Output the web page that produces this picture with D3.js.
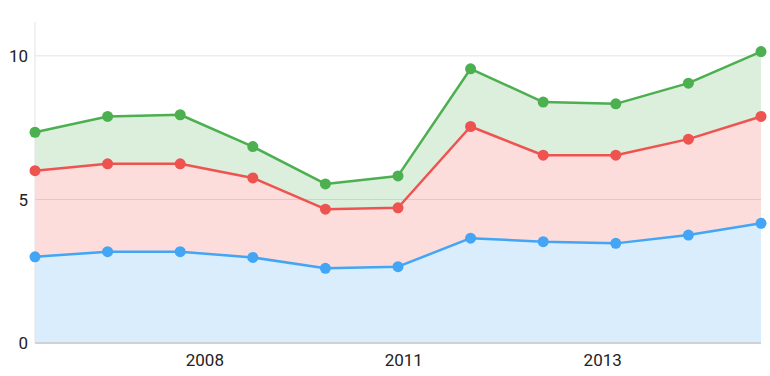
<!DOCTYPE html>
<html>
<head>
<meta charset="utf-8">
<script src="https://cdn.jsdelivr.net/npm/d3@7"></script>
<style>
  html, body { margin: 0; padding: 0; background: #fff; }
  #chart { width: 770px; height: 376px; }
</style>
</head>
<body>
<div id="chart"></div>
<script>
// Data (stacked: blue at bottom, then red, then green)
const pointIndex = [0, 1, 2, 3, 4, 5, 6, 7, 8, 9, 10];
const seriesBlue = [3.0, 3.18, 3.18, 2.98, 2.6, 2.66, 3.65, 3.53, 3.47, 3.76, 4.17];
const seriesRed = [3.0, 3.06, 3.06, 2.77, 2.06, 2.05, 3.89, 3.01, 3.07, 3.34, 3.72];
const seriesGreen = [1.34, 1.65, 1.71, 1.09, 0.88, 1.11, 2.01, 1.85, 1.79, 1.95, 2.26];
const seriesColors = ["#42a5f5", "#ef5350", "#4caf50"];
const xTickPos = [2.34, 5.08, 7.82];
const xTickLabels = ["2008", "2011", "2013"];
const yTicks = [0, 5, 10];

const width = 770, height = 376;
const margin = { top: 22, right: 9, bottom: 33, left: 35 };

const svg = d3.select("#chart").append("svg")
  .attr("width", width)
  .attr("height", height)
  .attr("font-family", "Roboto, sans-serif");

const x = d3.scaleLinear()
  .domain([0, pointIndex.length - 1])
  .range([margin.left, width - margin.right]);

const y = d3.scaleLinear()
  .domain([0, 11.18])
  .range([height - margin.bottom, margin.top]);

// build stacked table
const table = pointIndex.map((d, i) => ({
  i: d, blue: seriesBlue[i], red: seriesRed[i], green: seriesGreen[i]
}));
const stacked = d3.stack().keys(["blue", "red", "green"])(table);

// grid lines
svg.append("g")
  .selectAll("line")
  .data(yTicks.filter(t => t > 0))
  .join("line")
  .attr("x1", margin.left)
  .attr("x2", width - margin.right)
  .attr("y1", d => y(d))
  .attr("y2", d => y(d))
  .attr("stroke", "#e3e3e3")
  .attr("stroke-width", 1);

// areas
const area = d3.area()
  .x(d => x(d.data.i))
  .y0(d => y(d[0]))
  .y1(d => y(d[1]));

svg.append("g")
  .selectAll("path")
  .data(stacked)
  .join("path")
  .attr("d", area)
  .attr("fill", (d, i) => seriesColors[i])
  .attr("fill-opacity", 0.2);

// left axis line
svg.append("line")
  .attr("x1", margin.left).attr("x2", margin.left)
  .attr("y1", margin.top).attr("y2", y(0))
  .attr("stroke", "#e3e3e3");

// bottom axis line
svg.append("line")
  .attr("x1", margin.left).attr("x2", width - margin.right)
  .attr("y1", y(0)).attr("y2", y(0))
  .attr("stroke", "#cfd3d8")
  .attr("stroke-width", 2);

// lines
const line = d3.line()
  .x(d => x(d.data.i))
  .y(d => y(d[1]));

svg.append("g")
  .selectAll("path")
  .data(stacked)
  .join("path")
  .attr("d", line)
  .attr("fill", "none")
  .attr("stroke", (d, i) => seriesColors[i])
  .attr("stroke-width", 2.5)
  .attr("stroke-linejoin", "round");

// dots
stacked.forEach((s, k) => {
  svg.append("g")
    .selectAll("circle")
    .data(s)
    .join("circle")
    .attr("cx", d => x(d.data.i))
    .attr("cy", d => y(d[1]))
    .attr("r", 5.5)
    .attr("fill", seriesColors[k]);
});

// y tick labels
svg.append("g")
  .selectAll("text")
  .data(yTicks)
  .join("text")
  .attr("x", 28)
  .attr("y", d => y(d))
  .attr("dy", "0.36em")
  .attr("text-anchor", "end")
  .attr("font-size", 17)
  .attr("fill", "#222")
  .text(d => d);

// x tick labels
svg.append("g")
  .selectAll("text")
  .data(xTickPos)
  .join("text")
  .attr("x", d => x(d))
  .attr("y", 366)
  .attr("text-anchor", "middle")
  .attr("font-size", 17)
  .attr("fill", "#222")
  .text((d, i) => xTickLabels[i]);
</script>
</body>
</html>
